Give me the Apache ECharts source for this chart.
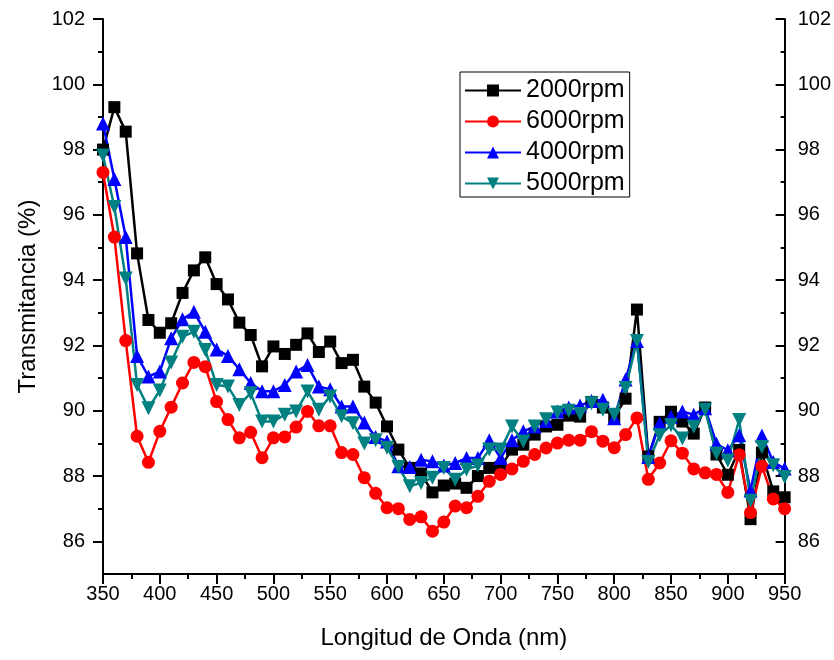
<!DOCTYPE html>
<html>
<head>
<meta charset="utf-8">
<script src="https://cdn.jsdelivr.net/npm/echarts@6/dist/echarts.min.js"></script>
<style>
  html, body { margin: 0; padding: 0; background: #fff; }
  #chart { width: 834px; height: 660px; }
</style>
</head>
<body>
<div id="chart"></div>
<script>
// Wavelength (nm), one point every 10 nm
const wavelengths = [];
for (let w = 350; w <= 950; w += 10) wavelengths.push(w);

const rpm2000 = [98.0, 99.3, 98.55, 94.82, 92.78, 92.39, 92.68, 93.61, 94.3, 94.7,
  93.88, 93.41, 92.7, 92.32, 91.36, 91.97, 91.74, 92.02, 92.37, 91.8,
  92.12, 91.46, 91.56, 90.74, 90.25, 89.52, 88.81, 88.25, 88.08, 87.5,
  87.71, 87.77, 87.64, 88.0, 88.25, 88.28, 88.81, 88.96, 89.27, 89.52,
  89.57, 89.85, 89.82, 90.27, 90.1, 89.8, 90.37, 93.1, 88.6, 89.66,
  89.97, 89.67, 89.3, 90.1, 88.66, 88.04, 88.8, 86.68, 88.72, 87.53, 87.35];

const rpm6000 = [97.3, 95.32, 92.15, 89.22, 88.42, 89.37, 90.11, 90.85, 91.48, 91.35,
  90.28, 89.73, 89.17, 89.34, 88.56, 89.17, 89.2, 89.5, 89.98, 89.54,
  89.54, 88.72, 88.66, 87.95, 87.47, 87.03, 87.0, 86.67, 86.75, 86.31,
  86.59, 87.08, 87.03, 87.38, 87.84, 88.05, 88.22, 88.45, 88.66, 88.86,
  89.01, 89.1, 89.1, 89.36, 89.07, 88.87, 89.27, 89.78, 87.9, 88.4,
  89.08, 88.7, 88.22, 88.1, 88.05, 87.5, 88.65, 86.88, 88.3, 87.3, 87.0];

const rpm4000 = [98.8, 97.1, 95.32, 91.68, 91.05, 91.2, 92.22, 92.8, 93.03, 92.42,
  91.88, 91.68, 91.27, 90.85, 90.6, 90.6, 90.79, 91.2, 91.4, 90.74,
  90.66, 90.13, 90.13, 89.64, 89.2, 89.06, 88.3, 88.28, 88.5, 88.45,
  88.32, 88.4, 88.55, 88.55, 89.1, 88.55, 89.1, 89.37, 89.52, 89.69,
  89.98, 90.1, 90.16, 90.3, 90.34, 89.77, 90.96, 92.14, 88.58, 89.62,
  89.82, 89.98, 89.88, 90.08, 88.99, 88.79, 89.25, 87.56, 89.24, 88.43, 88.23];

const rpm5000 = [97.82, 96.24, 94.05, 90.79, 90.08, 90.62, 91.48, 92.27, 92.42, 91.86,
  90.79, 90.74, 90.18, 90.54, 89.67, 89.67, 89.88, 89.98, 90.59, 90.03,
  90.44, 89.83, 89.62, 89.0, 89.1, 88.87, 88.28, 87.69, 87.79, 87.95,
  88.25, 87.89, 88.2, 88.32, 88.81, 88.81, 89.52, 89.06, 89.52, 89.74,
  89.95, 90.0, 89.9, 90.23, 90.03, 89.88, 90.7, 92.14, 88.43, 89.25,
  89.56, 89.15, 89.51, 90.03, 88.69, 88.48, 89.72, 87.24, 88.89, 88.33, 87.97];

const yMajor = [86, 88, 90, 92, 94, 96, 98, 100, 102];
const yMinor = [87, 89, 91, 93, 95, 97, 99, 101];

const chart = echarts.init(document.getElementById('chart'));

const font = 'Liberation Sans, Arial, sans-serif';
const pairs = vals => wavelengths.map((w, i) => [w, vals[i]]);

function makeSeries(name, vals, color, symbol, size) {
  return {
    name: name,
    type: 'line',
    data: pairs(vals),
    symbol: symbol,
    symbolSize: size,
    showAllSymbol: true,
    lineStyle: { color: color, width: 2.5 },
    itemStyle: { color: color },
    emphasis: { disabled: true }
  };
}

function yAxisBase(pos, ticks, len, inside, labels) {
  return {
    type: 'value',
    position: pos,
    min: 85,
    max: 102,
    interval: 1,
    splitLine: { show: false },
    axisLine: { show: labels, lineStyle: { color: '#000', width: 2 } },
    axisTick: {
      show: true, inside: inside, length: len, customValues: ticks,
      lineStyle: { color: '#000', width: 2 }
    },
    axisLabel: {
      show: labels, customValues: yMajor,
      color: '#000', fontSize: 20, fontFamily: font,
      margin: pos === 'left' ? 18 : 13
    }
  };
}

const yAxes = [
  Object.assign(yAxisBase('left', yMajor, 10, false, true), {
    name: 'Transmitancia (%)',
    nameLocation: 'middle',
    nameGap: 62,
    nameTextStyle: { color: '#000', fontSize: 24, fontFamily: font }
  }),
  yAxisBase('left', yMinor, 5, false, false),
  yAxisBase('right', yMajor, 9, true, true),
  yAxisBase('right', yMinor, 4, true, false)
];

chart.setOption({
  animation: false,
  backgroundColor: '#fff',
  grid: { left: 103, right: 49, top: 19, bottom: 86 },
  legend: {
    orient: 'vertical',
    left: 460,
    top: 72,
    padding: [6, 5, 1, 4],
    itemWidth: 56,
    itemHeight: 15,
    itemGap: 6,
    itemTextGap: 7,
    borderColor: '#000',
    borderWidth: 1,
    textStyle: { color: '#000', fontSize: 25, fontFamily: font },
    data: ['2000rpm', '6000rpm', '4000rpm', '5000rpm']
  },
  xAxis: {
    type: 'value',
    min: 350,
    max: 950,
    interval: 50,
    name: 'Longitud de Onda (nm)',
    nameLocation: 'middle',
    nameGap: 52,
    nameTextStyle: { color: '#000', fontSize: 24, fontFamily: font },
    splitLine: { show: false },
    axisLine: { lineStyle: { color: '#000', width: 2 } },
    axisTick: { length: 10, lineStyle: { color: '#000', width: 2 } },
    minorTick: { show: true, splitNumber: 2, length: 5, lineStyle: { color: '#000', width: 2 } },
    axisLabel: { color: '#000', fontSize: 20, fontFamily: font, margin: 10 }
  },
  yAxis: yAxes,
  series: [
    makeSeries('2000rpm', rpm2000, '#000000', 'rect', 12),
    makeSeries('6000rpm', rpm6000, '#ff0000', 'circle', 13),
    makeSeries('4000rpm', rpm4000, '#0000ff', 'triangle', 14),
    makeSeries('5000rpm', rpm5000, '#008080', 'path://M0,0 L10,0 L5,9 Z', 14)
  ]
});
</script>
</body>
</html>
